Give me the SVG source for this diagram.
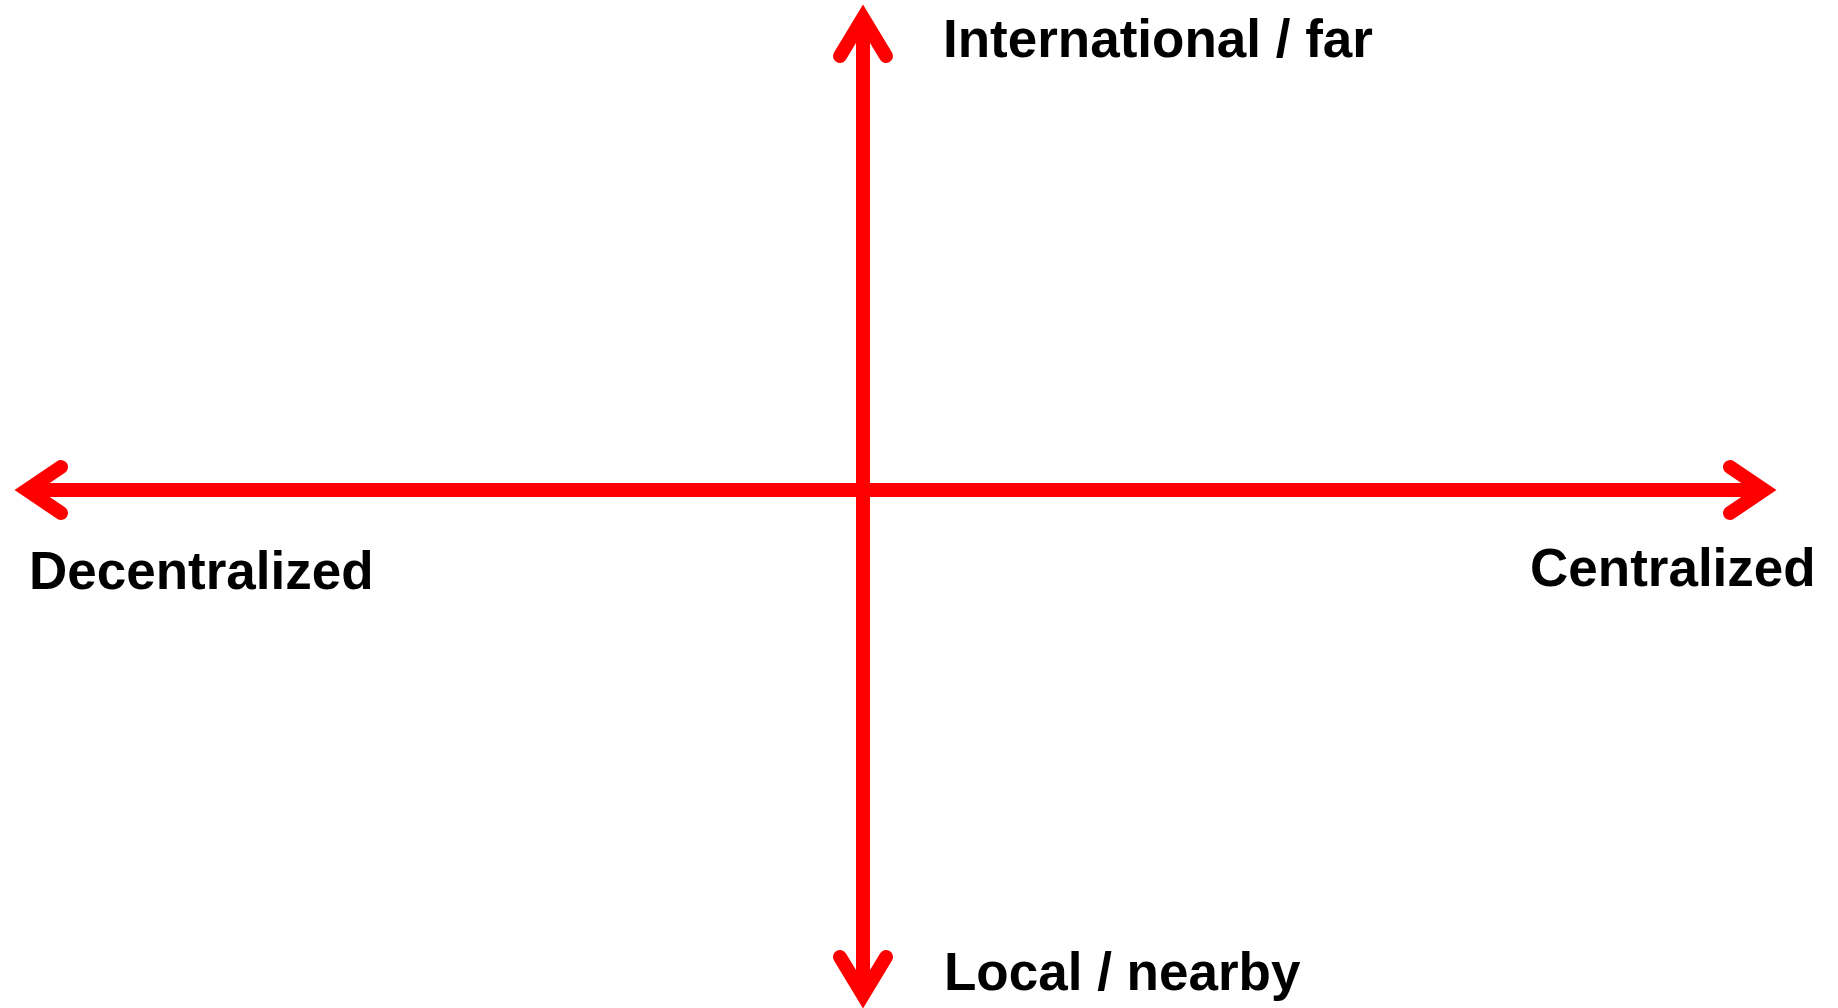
<svg xmlns="http://www.w3.org/2000/svg" width="1838" height="1008" viewBox="0 0 1838 1008">
<style>
.ax{fill:none;stroke:#ff0000;stroke-width:14;stroke-linecap:round;stroke-linejoin:miter;stroke-miterlimit:10}
.ln{fill:none;stroke:#ff0000;stroke-width:14}
.lbl{font-family:"Liberation Sans",Arial,sans-serif;font-weight:bold;font-size:53px;fill:#000}
</style>
<rect width="1838" height="1008" fill="#fff"/>
<g id="connectors">
<line class="ln" x1="863" y1="20" x2="863" y2="993"/>
<line class="ln" x1="28" y1="490" x2="1762" y2="490"/>
<polyline class="ax" points="840,56 863,18 886,56"/>
<polyline class="ax" points="840,957 863,995 886,957"/>
<polyline class="ax" points="61,467 27,490 61,513"/>
<polyline class="ax" points="1730,467 1764,490 1730,513"/>
</g>
<g id="label-international"><text class="lbl" x="943" y="57">International / far</text></g>
<g id="label-local"><text class="lbl" x="944" y="990">Local / nearby</text></g>
<g id="label-decentralized"><text class="lbl" x="29" y="589">Decentralized</text></g>
<g id="label-centralized"><text class="lbl" x="1530" y="586">Centralized</text></g>
</svg>
